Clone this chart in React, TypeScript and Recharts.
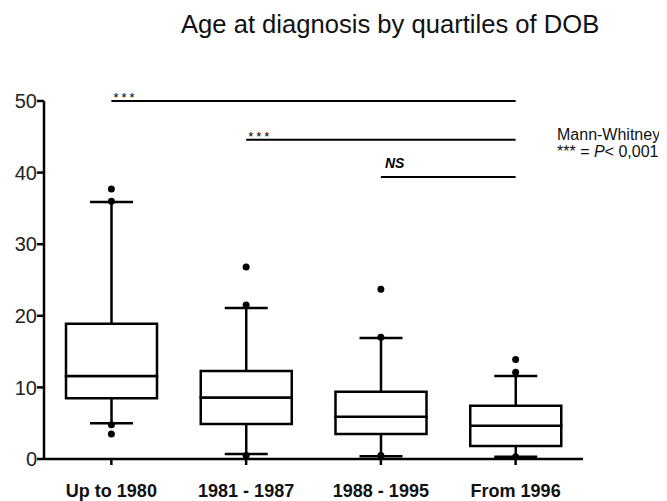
import React from 'react';
import { ComposedChart, Bar, Line, XAxis, YAxis, ReferenceLine } from 'recharts';

const categories = ['Up to 1980', '1981 - 1987', '1988 - 1995', 'From 1996'];
const whiskerLow = [5.0, 0.7, 0.4, 0.3];
const q1 = [8.5, 4.9, 3.5, 1.8];
const median = [11.6, 8.6, 5.9, 4.65];
const q3 = [18.9, 12.3, 9.4, 7.45];
const whiskerHigh = [35.9, 21.1, 16.9, 11.6];
const outliers = [
  [37.7, 36.0, 4.8, 3.5],
  [26.8, 21.5, 0.5],
  [23.7, 17.0, 0.5],
  [13.9, 12.1, 0.3],
];
const yTicks = [0, 10, 20, 30, 40, 50];

const significance = [
  { from: 'Up to 1980', to: 'From 1996', y: 50, label: '***' },
  { from: '1981 - 1987', to: 'From 1996', y: 44.6, label: '***' },
  { from: '1988 - 1995', to: 'From 1996', y: 39.4, label: 'NS' },
];

const data = categories.map((name, i) => {
  const row: any = {
    name,
    base: whiskerLow[i],
    lowWhisker: q1[i] - whiskerLow[i],
    lowBox: median[i] - q1[i],
    highBox: q3[i] - median[i],
    highWhisker: whiskerHigh[i] - q3[i],
  };
  outliers[i].forEach((v, k) => {
    row[`o${k}`] = v;
  });
  return row;
});

const FONT = '"Liberation Sans", Arial, sans-serif';
const CAP = 43;
const SW = 2.5;

const LowWhisker = (props: any) => {
  const { x, y, width, height } = props;
  const cx = x + width / 2;
  return (
    <g stroke="#000" strokeWidth={SW}>
      <line x1={cx} y1={y} x2={cx} y2={y + height} />
      <line x1={cx - CAP / 2} y1={y + height} x2={cx + CAP / 2} y2={y + height} />
    </g>
  );
};

const HighWhisker = (props: any) => {
  const { x, y, width, height } = props;
  const cx = x + width / 2;
  return (
    <g stroke="#000" strokeWidth={SW}>
      <line x1={cx} y1={y} x2={cx} y2={y + height} />
      <line x1={cx - CAP / 2} y1={y} x2={cx + CAP / 2} y2={y} />
    </g>
  );
};

const sigLabel = (text: string) => (props: any) => {
  const { viewBox } = props;
  if (!viewBox) return null;
  if (text === 'NS') {
    return (
      <text x={viewBox.x + 4} y={viewBox.y - 8.5} fontFamily={FONT} fontSize={14} fontWeight="bold" fontStyle="italic" fill="#000">
        {text}
      </text>
    );
  }
  return (
    <text x={viewBox.x + 2} y={viewBox.y + 1} fontFamily={FONT} fontSize={13} letterSpacing={3} fill="#000">
      {text}
    </text>
  );
};

export default function App() {
  return (
    <div style={{ position: 'relative', width: 659, height: 493, fontFamily: FONT }}>
      <div style={{ position: 'absolute', left: 173, top: 4, fontSize: 25.6, lineHeight: 1, color: '#111', whiteSpace: 'nowrap' }}>
        Age at diagnosis by quartiles of DOB
      </div>
      <div style={{ position: 'absolute', left: 549, top: 118, fontSize: 16, lineHeight: '17px', color: '#111', whiteSpace: 'nowrap' }}>
        <div>Mann-Whitney</div>
        <div>
          *** = <i>P</i>&lt; 0,001
        </div>
      </div>
      <ComposedChart width={659} height={493} data={data} margin={{ top: 93, right: 84, left: 0, bottom: 0 }}>
        <XAxis
          dataKey="name"
          height={42}
          axisLine={{ stroke: '#000', strokeWidth: SW }}
          tickLine={{ stroke: '#000', strokeWidth: SW }}
          tickSize={6}
          tickMargin={19}
          tick={{ fill: '#111', fontSize: 18, fontWeight: 'bold', fontFamily: FONT }}
          interval={0}
        />
        <YAxis
          width={36}
          domain={[0, 50]}
          ticks={yTicks}
          axisLine={{ stroke: '#000', strokeWidth: SW }}
          tickLine={{ stroke: '#000', strokeWidth: SW }}
          tickSize={7}
          tickMargin={0}
          tick={{ fill: '#222', fontSize: 20, fontFamily: FONT }}
        />
        <Bar dataKey="base" stackId="box" barSize={91} fill="transparent" isAnimationActive={false} />
        <Bar dataKey="lowWhisker" stackId="box" barSize={91} shape={<LowWhisker />} isAnimationActive={false} />
        <Bar dataKey="lowBox" stackId="box" barSize={91} fill="#fff" stroke="#000" strokeWidth={SW} isAnimationActive={false} />
        <Bar dataKey="highBox" stackId="box" barSize={91} fill="#fff" stroke="#000" strokeWidth={SW} isAnimationActive={false} />
        <Bar dataKey="highWhisker" stackId="box" barSize={91} shape={<HighWhisker />} isAnimationActive={false} />
        {[0, 1, 2, 3].map((k) => (
          <Line
            key={k}
            dataKey={`o${k}`}
            stroke="none"
            dot={{ r: 3.5, fill: '#000', stroke: 'none' }}
            activeDot={false}
            legendType="none"
            isAnimationActive={false}
          />
        ))}
        {significance.map((s, i) => (
          <ReferenceLine
            key={i}
            segment={[
              { x: s.from, y: s.y },
              { x: s.to, y: s.y },
            ]}
            stroke="#000"
            strokeWidth={2}
            label={sigLabel(s.label)}
          />
        ))}
      </ComposedChart>
    </div>
  );
}
